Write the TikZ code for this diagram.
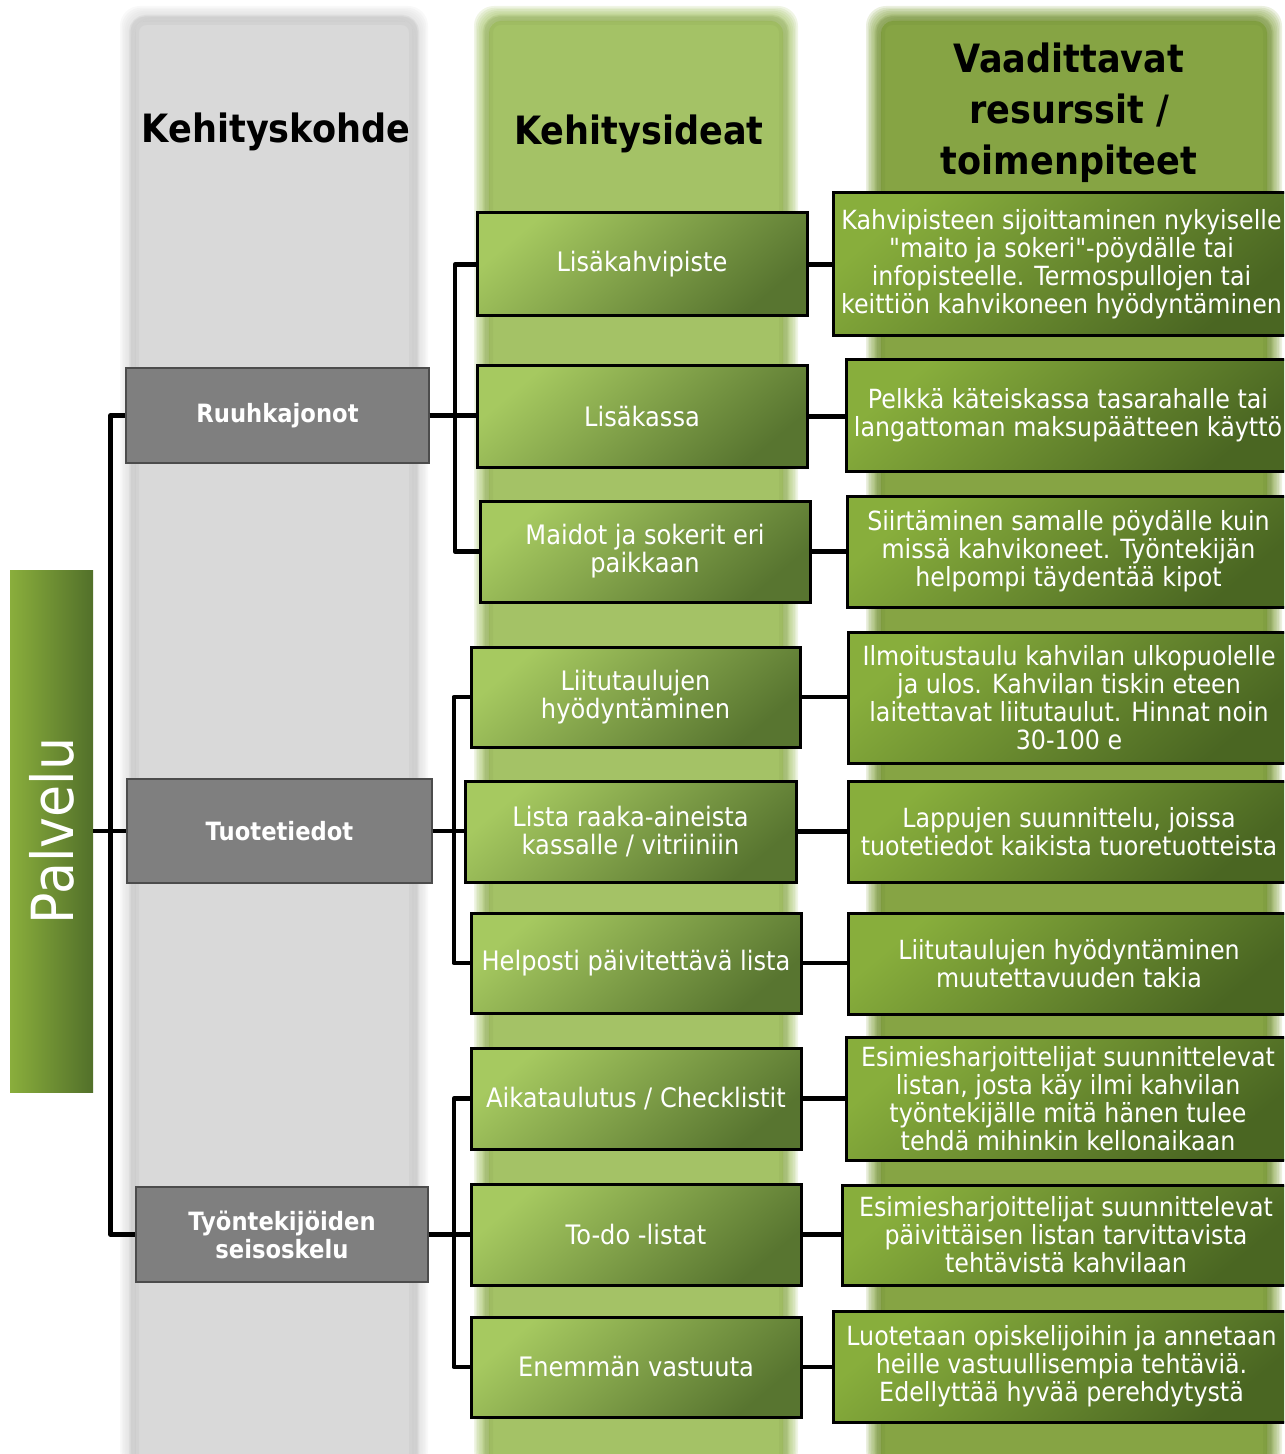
\documentclass[tikz,border=0pt]{standalone}
\usepackage{fontspec}
\setmainfont{DejaVu Sans}[FakeStretch=0.9, Ligatures=TeXOff]
\begin{document}
\begin{tikzpicture}[x=0.5pt,y=-0.5pt,
  sz/.style 2 args={minimum width=#1*0.5pt, minimum height=#2*0.5pt, inner sep=0pt},
  txt/.style={text=white, align=center, font=\fontsize{13.2}{14}\selectfont},
  catbox/.style={txt, font=\fontsize{12.6}{14}\selectfont\bfseries, fill=boxgray, draw=black!70, line width=0.8pt},
  ideabox/.style={txt, font=\fontsize{13.4}{14}\selectfont, draw=black, line width=1.5pt, top color=ideaLight, bottom color=ideaDark, shading angle=40},
  resbox/.style={txt, draw=black, line width=1.5pt, top color=resLight, bottom color=resDark, shading angle=40},
  head/.style={align=center, font=\fontsize{19.5}{25.5}\selectfont\bfseries},
  conn/.style={draw=black, line width=2.2pt, line join=round}
]
\definecolor{colGray}{HTML}{D9D9D9}
\definecolor{colLight}{HTML}{A4C266}
\definecolor{colDark}{HTML}{86A444}
\definecolor{boxgray}{HTML}{7F7F7F}
\definecolor{ideaLight}{HTML}{A6C960}
\definecolor{ideaDark}{HTML}{587530}
\definecolor{resLight}{HTML}{88AE3C}
\definecolor{resDark}{HTML}{4A6622}
\definecolor{palLight}{HTML}{8AAE3C}
\definecolor{palDark}{HTML}{52702A}

\clip (0,0) rectangle (1284,1454);

% soft-edged column band: x1, y1, x2, y2, colour
\newcommand\softband[5]{%
  \foreach \k in {0,...,9}{%
    \fill[#5, opacity=0.17, rounded corners=10pt] (#1+\k*1.6,#2+\k*1.6) rectangle (#3-\k*1.6,#4);}
  \fill[#5, rounded corners=6pt] (#1+15,#2+15) rectangle (#3-15,#4);
  \draw[#5!75!black, opacity=0.12, line width=5pt, rounded corners=6pt] (#1+14,#2+14) rectangle (#3-14,#4+20);
  \draw[#5!75!black, opacity=0.15, line width=2.5pt, rounded corners=6pt] (#1+13,#2+13) rectangle (#3-13,#4+20);}
\softband{120}{6}{428}{1470}{colGray}
\softband{474}{6}{798}{1470}{colLight}
\softband{866}{6}{1282}{1470}{colDark}

% column headings
\node[head] (h1) at (276,132) {Kehityskohde};
\node[head] (h2) at (639,134) {Kehitysideat};
\node[head] (h3) at (1069,113) {Vaadittavat\\resurssit /\\toimenpiteet};

% root
\node[sz={83}{522}, left color=palLight, right color=palDark] (P) at (51.5,831) {};
\node[rotate=90, text=white, font=\fontsize{29}{30}\selectfont] (Pt) at (P.center) {Palvelu};

% level 1
\node[catbox, sz={303}{95}] (R) at (277.5,415.5) {Ruuhkajonot};
\node[catbox, sz={305}{104}] (T) at (279.5,831) {Tuotetiedot};
\node[catbox, sz={292}{95}] (W) at (282,1234.5) {Työntekijöiden\\seisoskelu};

% level 2
\node[ideabox, sz={330}{103}] (a) at (642,264.5) {Lisäkahvipiste};
\node[ideabox, sz={330}{101}] (b) at (642,416.5) {Lisäkassa};
\node[ideabox, sz={330}{101}] (c) at (645,551.5) {Maidot ja sokerit eri\\paikkaan};
\node[ideabox, sz={329}{100}] (d) at (635.5,697) {Liitutaulujen\\hyödyntäminen};
\node[ideabox, sz={331}{101}] (e) at (630.5,831.5) {Lista raaka-aineista\\kassalle / vitriiniin};
\node[ideabox, sz={330}{100}] (f) at (636,963) {Helposti päivitettävä lista};
\node[ideabox, sz={330}{101}] (g) at (636,1098.5) {Aikataulutus / Checklistit};
\node[ideabox, sz={330}{101}] (h) at (636,1234.5) {To-do -listat};
\node[ideabox, sz={330}{100}] (i) at (636,1367) {Enemmän vastuuta};

% level 3
\node[resbox, sz={457}{143}] (r1) at (1061.5,264.5) {Kahvipisteen sijoittaminen nykyiselle\\"maito ja sokeri"-pöydälle tai\\infopisteelle. Termospullojen tai\\keittiön kahvikoneen hyödyntäminen};
\node[resbox, sz={444}{111}] (r2) at (1068,415.5) {Pelkkä käteiskassa tasarahalle tai\\langattoman maksupäätteen käyttö};
\node[resbox, sz={443}{111}] (r3) at (1068.5,551.5) {Siirtäminen samalle pöydälle kuin\\missä kahvikoneet. Työntekijän\\helpompi täydentää kipot};
\node[resbox, sz={442}{131}] (r4) at (1069,697.5) {Ilmoitustaulu kahvilan ulkopuolelle\\ja ulos. Kahvilan tiskin eteen\\laitettavat liitutaulut. Hinnat noin\\30-100 e};
\node[resbox, sz={442}{101}] (r5) at (1069,831.5) {Lappujen suunnittelu, joissa\\tuotetiedot kaikista tuoretuotteista};
\node[resbox, sz={442}{101}] (r6) at (1069,963.5) {Liitutaulujen hyödyntäminen\\muutettavuuden takia};
\node[resbox, sz={444}{123}] (r7) at (1068,1098.5) {Esimiesharjoittelijat suunnittelevat\\listan, josta käy ilmi kahvilan\\työntekijälle mitä hänen tulee\\tehdä mihinkin kellonaikaan};
\node[resbox, sz={448}{100}] (r8) at (1066,1235) {Esimiesharjoittelijat suunnittelevat\\päivittäisen listan tarvittavista\\tehtävistä kahvilaan};
\node[resbox, sz={457}{111}] (r9) at (1061.5,1366.5) {Luotetaan opiskelijoihin ja annetaan\\heille vastuullisempia tehtäviä.\\Edellyttää hyvää perehdytystä};

% root to categories
\draw[conn] (P.east) -- (P.east -| T.west);
\draw[conn] (P.east) -- ++(17,0) |- (R.west);
\draw[conn] (P.east) -- ++(17,0) |- (W.west);

% categories to ideas
\draw[conn] (R.east) -- ++(25,0) |- (a.west);
\draw[conn] (R.east) -- (R.east -| b.west);
\draw[conn] (R.east) -- ++(25,0) |- (c.west);
\draw[conn] (T.east) -- ++(21,0) |- (d.west);
\draw[conn] (T.east) -- (T.east -| e.west);
\draw[conn] (T.east) -- ++(21,0) |- (f.west);
\draw[conn] (W.east) -- ++(25,0) |- (g.west);
\draw[conn] (W.east) -- (W.east -| h.west);
\draw[conn] (W.east) -- ++(25,0) |- (i.west);

% ideas to resources
\foreach \s/\t in {a/r1,b/r2,c/r3,d/r4,e/r5,f/r6,g/r7,h/r8,i/r9}
  \draw[conn] (\s.east) -- (\s.east -| \t.west);
\end{tikzpicture}
\end{document}
